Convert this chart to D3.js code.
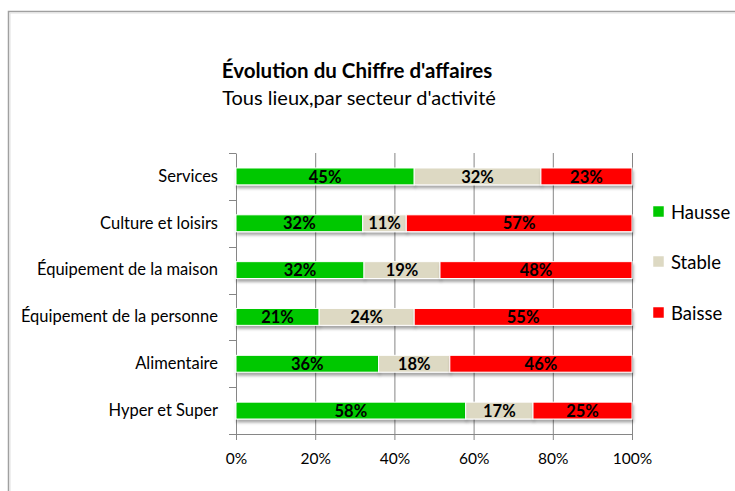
<!DOCTYPE html>
<html><head><meta charset="utf-8">
<script src="https://cdn.jsdelivr.net/npm/d3@7"></script>
<style>
body{margin:0;background:#fff;}
text{font-family:Lato,"Open Sans",sans-serif;}
</style></head>
<body><svg id="c" width="735" height="491"></svg>
<script>
const categories = ["Services","Culture et loisirs","Équipement de la maison","Équipement de la personne","Alimentaire","Hyper et Super"];
const hausse = [45,32,32,21,36,58];
const stable = [32,11,19,24,18,17];
const baisse = [23,57,48,55,46,25];
const seriesNames = ["Hausse","Stable","Baisse"];
const seriesColors = ["#00C800","#DDD9C3","#FF0000"];
const tickValues = [0,0.2,0.4,0.6,0.8,1];

const svg = d3.select("#c");
// frame
svg.append("path").attr("d","M8.5,491 V11.5 H735").attr("fill","none").attr("stroke","#a0a0a0").attr("stroke-width",1.5);
svg.append("path").attr("d","M10,491 V13 H735").attr("fill","none").attr("stroke","#e0e0e0").attr("stroke-width",1);

const defs = svg.append("defs");
const f = defs.append("filter").attr("id","sh").attr("x","-5%").attr("y","-50%").attr("width","110%").attr("height","220%");
f.append("feDropShadow").attr("dx",1).attr("dy",3).attr("stdDeviation",1.5).attr("flood-color","#000").attr("flood-opacity",0.35);

const rows = categories.map((c,i)=>{
  const tot = hausse[i]+stable[i]+baisse[i];
  return {cat:c, Hausse:hausse[i]/tot, Stable:stable[i]/tot, Baisse:baisse[i]/tot,
          labels:{Hausse:hausse[i],Stable:stable[i],Baisse:baisse[i]}};
});

const x = d3.scaleLinear().domain([0,1]).range([236,632]);
const y = d3.scaleBand().domain(categories).range([153,434]).paddingInner(0.64).paddingOuter(0.32);
const yb = d3.scaleBand().domain(categories).range([153,434]);

// gridlines
svg.append("g").selectAll("line").data(tickValues.slice(1)).join("line")
  .attr("x1",d=>x(d)+0.5).attr("x2",d=>x(d)+0.5).attr("y1",153).attr("y2",434)
  .attr("stroke","#868686").attr("stroke-width",1);

// x axis
const xAxis = d3.axisBottom(x).tickValues(tickValues).tickFormat(d3.format(".0%")).tickSize(6).tickPadding(13);
const gx = svg.append("g").attr("transform","translate(0,434)").call(xAxis);
gx.select(".domain").attr("stroke","#868686");
gx.selectAll(".tick line").attr("stroke","#868686");
gx.selectAll("text").attr("font-size",15.5).attr("fill","#000").attr("font-family","Lato,'Open Sans',sans-serif");

// y axis
const yAxis = d3.axisLeft(yb).tickSize(0).tickPadding(18);
const gy = svg.append("g").attr("transform","translate(236,0)").call(yAxis);
gy.select(".domain").attr("stroke","#868686");
gy.selectAll("text").attr("font-size",16.5).attr("fill","#000").attr("font-family","Lato,'Open Sans',sans-serif");
// category boundary ticks
const bounds = categories.map(c=>yb(c)).concat([yb(categories[categories.length-1])+yb.bandwidth()]);
svg.append("g").selectAll("line").data(bounds).join("line")
  .attr("x1",229).attr("x2",236).attr("y1",d=>Math.round(d)+0.5).attr("y2",d=>Math.round(d)+0.5)
  .attr("stroke","#868686");

// stacked bars
const stack = d3.stack().keys(seriesNames)(rows);
const color = d3.scaleOrdinal().domain(seriesNames).range(seriesColors);
const barG = svg.append("g");
stack.forEach(s=>{
  barG.append("g").attr("filter","url(#sh)").selectAll("rect").data(s).join("rect")
    .attr("x",d=>x(d[0])).attr("width",d=>x(d[1])-x(d[0]))
    .attr("y",d=>y(d.data.cat)).attr("height",y.bandwidth())
    .attr("fill",color(s.key)).attr("stroke","#fff").attr("stroke-width",1);
});
stack.forEach(s=>{
  barG.append("g").selectAll("text").data(s).join("text")
    .attr("x",d=>(x(d[0])+x(d[1]))/2).attr("y",d=>y(d.data.cat)+y.bandwidth()/2)
    .attr("dy","0.37em").attr("text-anchor","middle")
    .attr("font-size",16.5).attr("font-weight","bold").attr("fill","#000")
    .text(d=>d.data.labels[s.key]+"%");
});

// titles
svg.append("text").attr("x",357).attr("y",78).attr("text-anchor","middle")
  .attr("font-size",20.5).attr("font-weight","bold").text("Évolution du Chiffre d'affaires");
svg.append("text").attr("x",359).attr("y",105).attr("text-anchor","middle")
  .attr("font-size",20).text("Tous lieux,par secteur d'activité");

// legend
const legY = [212,262,313];
const lg = svg.append("g").selectAll("g").data(seriesNames).join("g")
  .attr("transform",(d,i)=>`translate(653,${legY[i]})`);
lg.append("rect").attr("x",0).attr("y",-6).attr("width",11).attr("height",11)
  .attr("fill",d=>color(d)).attr("stroke","#fff").attr("stroke-width",0.5);
lg.append("text").attr("x",18).attr("y",0).attr("dy","0.37em").attr("font-size",18.5).text(d=>d);
</script></body></html>
